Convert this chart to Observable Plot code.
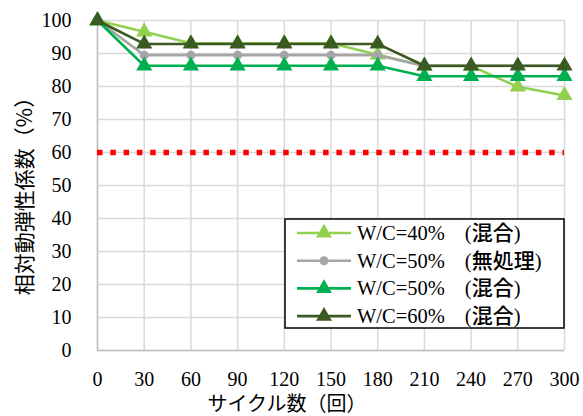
<!DOCTYPE html>
<html><head><meta charset="utf-8">
<script src="https://cdn.jsdelivr.net/npm/d3@7"></script>
<script src="https://cdn.jsdelivr.net/npm/@observablehq/plot@0.6"></script>
<style>body{margin:0;background:#fff}</style>
</head><body><div id="chart"></div>
<script>
const cycles = [0, 30, 60, 90, 120, 150, 180, 210, 240, 270, 300];
const wc40mix = [100, 96.6, 93.1, 93.1, 93.1, 93.1, 89.6, 86.2, 86.2, 79.9, 77.3];
const wc50none = [100, 89.5, 89.5, 89.5, 89.5, 89.5, 89.5, 86.2, 86.2, 86.2, 86.2];
const wc50mix = [100, 86.3, 86.3, 86.3, 86.3, 86.3, 86.3, 83.1, 83.1, 83.1, 83.1];
const wc60mix = [100, 92.9, 92.9, 92.9, 92.9, 92.9, 92.9, 86.3, 86.3, 86.3, 86.3];
const threshold = 60;
const xTicks = [0, 30, 60, 90, 120, 150, 180, 210, 240, 270, 300];
const yTicks = [0, 10, 20, 30, 40, 50, 60, 70, 80, 90, 100];
const seriesNames = ["W/C=40% (混合)", "W/C=50% (無処理)", "W/C=50% (混合)", "W/C=60% (混合)"];
const seriesValues = [wc40mix, wc50none, wc50mix, wc60mix];
const colors = ["#92D050", "#A5A5A5", "#00B050", "#3A5A22"];
const symbols = ["triangle", "circle", "triangle", "triangle"];
const xTitle = "サイクル数（回）";
const yTitle = "相対動弾性係数（%）";

const serif = "'Liberation Serif', 'Times New Roman', 'Noto Sans CJK JP', serif";
const cjk = "'Noto Sans CJK JP', sans-serif";

const series = seriesNames.map((name, i) => cycles.map((c, j) => ({name, i, x: c, y: seriesValues[i][j]})));

const marks = [
  Plot.gridX(xTicks, {stroke: "#d9d9d9", strokeOpacity: 1, strokeWidth: 1.5}),
  Plot.gridY(yTicks, {stroke: "#d9d9d9", strokeOpacity: 1, strokeWidth: 1.5}),
  Plot.ruleX([0], {stroke: "#bfbfbf", strokeWidth: 1.5}),
  Plot.ruleY([0], {stroke: "#bfbfbf", strokeWidth: 1.5}),
  Plot.axisX(xTicks, {tickSize: 0, tickPadding: 21, fontSize: 20, fill: "#000", label: null}),
  Plot.axisY(yTicks, {tickSize: 0, tickPadding: 26, fontSize: 20, fill: "#000", label: null}),
  Plot.ruleY([threshold], {x1: 0, x2: 300, stroke: "#FF0000", strokeWidth: 5.5, strokeDasharray: "5.5,7.8"})
];
series.forEach((s, i) => {
  marks.push(Plot.line(s, {x: "x", y: "y", stroke: colors[i], strokeWidth: 2.6}));
  marks.push(Plot.dot(s, {x: "x", y: "y", symbol: symbols[i], r: symbols[i] === "circle" ? 4.5 : 6, fill: colors[i], stroke: "none"}));
});

const plot = Plot.plot({
  width: 583, height: 416,
  marginLeft: 97, marginRight: 19, marginTop: 20, marginBottom: 66,
  x: {domain: [0, 300]},
  y: {domain: [0, 100]},
  style: {background: "#fff"},
  marks
});

const svg = d3.select(plot);
svg.selectAll('g[aria-label$="tick label"]').attr("font-family", serif);
svg.selectAll('g[aria-label$="tick label"] text').attr("font-family", serif);
svg.append("text").text(xTitle).attr("x", 287).attr("y", 411)
  .attr("text-anchor", "middle").attr("font-family", cjk).attr("font-size", 20).attr("fill", "#000");
svg.append("text").text(yTitle).attr("transform", "translate(32,191) rotate(-90)")
  .attr("text-anchor", "middle").attr("font-family", cjk).attr("font-size", 21).attr("fill", "#000");

const lg = svg.append("g").attr("transform", "translate(285,219)");
lg.append("rect").attr("width", 279).attr("height", 109).attr("fill", "#fff").attr("stroke", "#000").attr("stroke-width", 1.5);
seriesNames.forEach((n, i) => {
  const yy = 14 + i * 27.7;
  lg.append("line").attr("x1", 12).attr("x2", 66).attr("y1", yy).attr("y2", yy).attr("stroke", colors[i]).attr("stroke-width", 2.6);
  if (symbols[i] === "circle") lg.append("circle").attr("cx", 39).attr("cy", yy).attr("r", 4.5).attr("fill", colors[i]);
  else lg.append("path").attr("d", d3.symbol(d3.symbolTriangle, 110)()).attr("transform", `translate(39,${yy})`).attr("fill", colors[i]);
  const k = n.lastIndexOf(" ");
  const head = n.slice(0, k), tail = n.slice(k + 1);
  const t = lg.append("text").attr("x", 72).attr("y", yy + 7).attr("text-anchor", "start")
    .attr("font-family", serif).attr("font-size", 20.5).attr("fill", "#000");
  t.append("tspan").text(head);
  t.append("tspan").attr("dx", 20).text(tail.slice(0, 1));
  t.append("tspan").attr("font-family", cjk).attr("font-weight", 500).attr("font-size", 21).text(tail.slice(1, -1));
  t.append("tspan").text(tail.slice(-1));
});

document.getElementById("chart").appendChild(plot);
</script></body></html>
